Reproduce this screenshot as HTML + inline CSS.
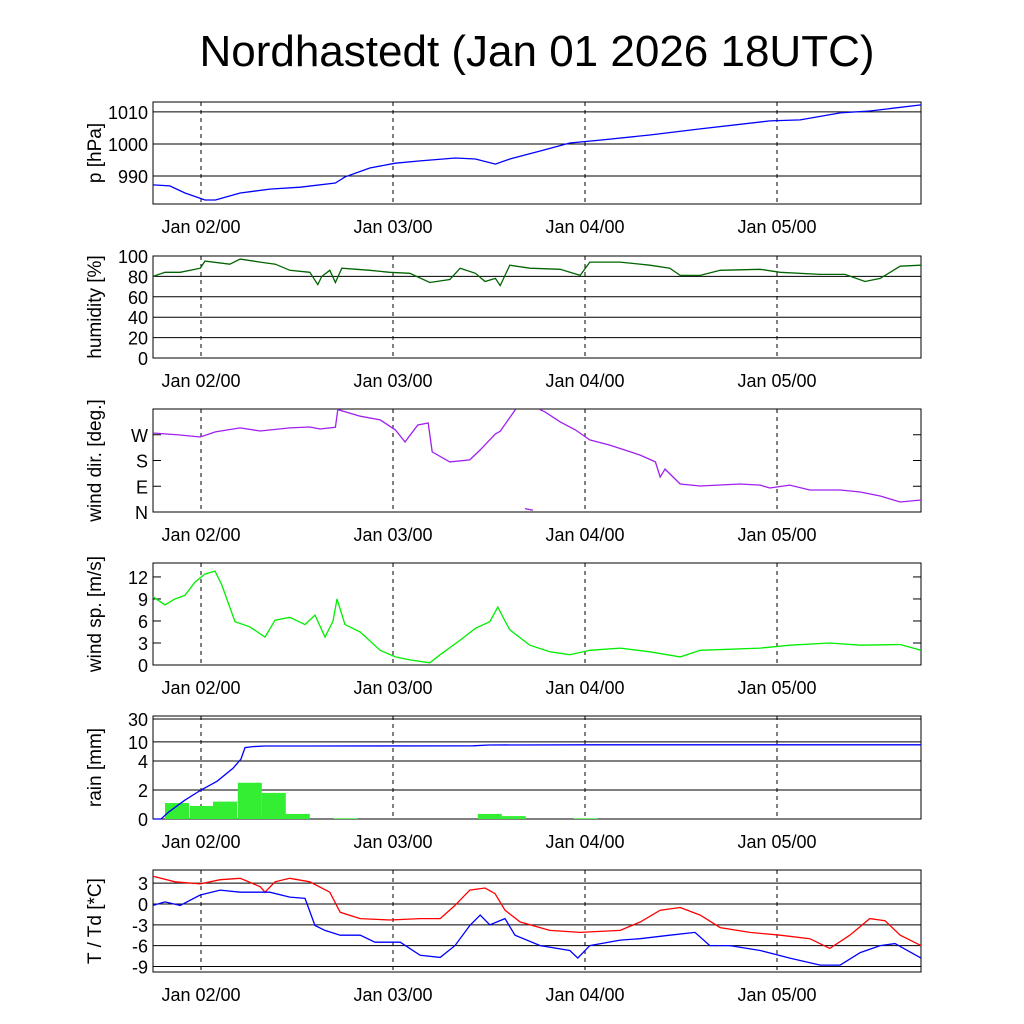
<!DOCTYPE html>
<html><head><meta charset="utf-8"><title>Nordhastedt meteogram</title>
<style>
html,body{margin:0;padding:0;background:#fff;}
svg{display:block;font-family:"Liberation Sans",sans-serif;}
</style></head>
<body>
<svg id="chart" width="1024" height="1024" viewBox="0 0 1024 1024" xmlns="http://www.w3.org/2000/svg">
<rect x="0" y="0" width="1024" height="1024" fill="#fff"/>
<text x="537" y="66" font-size="44" text-anchor="middle">Nordhastedt (Jan 01 2026 18UTC)</text>
</svg>
<script>
// ---- data (time in hours since Jan 01 18UTC) ----
const dayLabels = ["Jan 02/00","Jan 03/00","Jan 04/00","Jan 05/00"];
const dayHours = [6,30,54,78];

const pT = [0,2.1,4,6.5,7.8,10.9,14.6,18.4,22.8,24,27.1,30.3,33.4,37.8,40.3,42.8,44.6,48.4,52.1,55.9,62.1,68.4,77.1,80.9,85.9,89.6,96];
const pV = [987.2,986.9,984.7,982.5,982.5,984.7,985.9,986.5,987.8,989.7,992.5,994.0,994.7,995.6,995.3,993.7,995.3,997.8,1000.3,1001.2,1002.8,1004.7,1007.2,1007.5,1009.7,1010.3,1012.2];
const pTicks = [990,1000,1010];

const hT = [0,1.5,3.4,5.9,6.5,9.6,10.9,13.4,15.3,17.1,19.6,20.6,21.1,22.1,22.8,23.6,27.1,29.6,32.1,34.6,37.1,38.4,40.3,41.5,42.8,43.4,44.6,47.1,50.9,53.4,54.6,58.4,62.1,64.6,65.9,68.4,70.9,75.9,78.4,83.4,86.5,89,90.9,93.4,96];
const hV = [80,84,84,88,95,92,97,94,92,86,84,72,80,86,74,88,86,84,83,74,77,88,83,75,78,71,91,88,87,81,94,94,91,88,81,81,86,87,84,82,82,75,78,90,91];
const hTicks = [0,20,40,60,80,100];

const dT = [0,3.4,5.9,7.8,10.9,13.4,17.1,19.6,20.9,22.8,23.1,25.9,28.4,30.3,31.5,33.1,34.4,34.9,37.1,39.6,40.9,42.8,43.4,45.3,46.5,47.5,48.3,49,50.9,52.8,54.6,57.1,60.9,62.8,63.4,64,65.9,68.4,73.4,75.9,77.1,79.6,82.1,85.9,88.4,90.9,93.4,96];
const dV = [276,269,262,280,294,283,294,297,290,296,358,335,322,287,245,304,311,210,175,182,217,273,282,358,372,366,359,350,315,287,252,234,199,175,122,150,98,91,98,94,84,94,77,77,70,56,35,42];
const dTicks = [0,90,180,270];
const dTickLabels = ["N","E","S","W"];

const wT = [0,1.5,2.75,4,5.25,6.5,7.75,8.6,10.25,12.1,14,15.25,17.1,19,20.25,21.5,22.5,23,24,25.9,28.4,30.3,32.1,34.6,35.9,38.4,40.3,42.1,43.1,44,44.6,47.1,49.6,52.1,54.6,58.4,62.1,65.9,68.4,75.9,79.6,84.6,88.4,93.4,96];
const wV = [9.3,8.2,9.0,9.5,11.3,12.4,12.8,10.9,5.9,5.2,3.8,6.1,6.5,5.5,6.8,3.8,6.0,9.0,5.5,4.5,2.0,1.1,0.7,0.3,1.4,3.4,5.0,5.9,7.9,6.0,4.8,2.7,1.8,1.4,2.0,2.3,1.8,1.1,2.0,2.3,2.7,3.0,2.7,2.8,2.0];
const wTicks = [0,3,6,9,12];

const rainBinStart = [1.5,4.6,7.5,10.6,13.6,16.6,22.6,40.6,43.6,52.6];
const rainBinVal = [1.1,0.9,1.2,2.5,1.8,0.35,0.05,0.35,0.2,0.05];
const rainAccT = [0,1,2,4,6,8,10,11,11.5,12.5,14,20,40,42,55,96];
const rainAccV = [0,0,0.5,1.3,2.0,2.6,3.5,4.4,7.6,8.0,8.2,8.2,8.3,8.6,8.7,8.7];
const rainTicks = [0,2,4,10,30];

const tT = [0,2.75,5.9,8.4,10.9,13.4,14,15.25,17.1,19.6,22.1,23.4,25.9,29.6,33.4,35.9,37.75,39.6,41.5,42.75,44,45.9,49.6,53.4,58.4,60.9,63.4,65.9,68.4,70.9,74.6,78.4,82.1,84.6,87.1,89.6,91.5,93.4,96];
const tV = [4.0,3.2,2.9,3.5,3.7,2.5,1.7,3.2,3.7,3.2,1.7,-1.2,-2.1,-2.3,-2.1,-2.1,-0.2,2.0,2.3,1.5,-0.9,-2.6,-3.8,-4.1,-3.8,-2.6,-0.9,-0.5,-1.6,-3.4,-4.1,-4.5,-5.0,-6.4,-4.5,-2.1,-2.4,-4.5,-6.0];
const tdT = [0,1.5,3.4,5.9,8.4,10.9,14.6,17.1,19,20.25,21.5,23.4,25.9,27.75,30.9,33.4,35.9,37.75,39.6,40.9,42.1,44,45.25,48.4,52.1,53.1,54.6,58.4,60.9,64.6,67.75,69.6,72.1,75.9,79.6,83.4,85.9,88.4,90.9,92.75,96];
const tdV = [-0.2,0.3,-0.2,1.3,2.0,1.7,1.7,1.0,0.8,-3.1,-3.8,-4.5,-4.5,-5.5,-5.5,-7.4,-7.7,-6.0,-3.1,-1.6,-3.0,-2.1,-4.5,-6.0,-6.7,-7.8,-6.0,-5.2,-5.0,-4.5,-4.1,-6.0,-6.0,-6.7,-7.8,-8.8,-8.8,-7.0,-6.0,-5.7,-7.8];
const tTicks = [-9,-6,-3,0,3];

// ---- drawing ----
const svg = document.getElementById('chart');
const NS = 'http://www.w3.org/2000/svg';
const X0 = 153, X1 = 921, HOURS = 96;
const xs = h => X0 + (X1 - X0) * h / HOURS;
function mk(tag, attrs, parent){
  const e = document.createElementNS(NS, tag);
  for (const k in attrs) e.setAttribute(k, attrs[k]);
  (parent || svg).appendChild(e);
  return e;
}
function lin(lo, hi, top, bot){ return v => bot - (v - lo) / (hi - lo) * (bot - top); }

function panel(name, top, bot, ys, ticks, tickLabels, grid, ylabel){
  const g = mk('g', {});
  
  
  ticks.forEach((t, i) => {
    const y = ys(t);
    if (grid) {
      const gl = mk('line', {x1:X0, x2:X1, y1:y, y2:y, stroke:'#000', 'stroke-width':1}, g);
      
      
    } else {
      mk('line', {x1:X0, x2:X0+8, y1:y, y2:y, stroke:'#000'}, g);
      mk('line', {x1:X1-8, x2:X1, y1:y, y2:y, stroke:'#000'}, g);
    }
    const tl = mk('text', {x:X0-5, y:y+7, 'font-size':18, 'text-anchor':'end'}, g);
    tl.textContent = tickLabels[i];
    
    
  });
  dayHours.forEach((h, i) => {
    const x = xs(h);
    const vl = mk('line', {x1:x, x2:x, y1:top, y2:bot, stroke:'#000', 'stroke-dasharray':'4,4'}, g);
    
    
    const xl = mk('text', {x:x, y:bot+29, 'font-size':18, 'text-anchor':'middle'}, g);
    xl.textContent = dayLabels[i];
    
    
  });
  const fr = mk('rect', {x:X0, y:top, width:X1-X0, height:bot-top, fill:'none', stroke:'#000', 'stroke-width':1}, g);
  
  
  const cy = (top + bot) / 2, lx = 101;
  const yl = mk('text', {x:lx, y:cy, 'font-size':19, 'text-anchor':'middle', transform:`rotate(-90 ${lx} ${cy})`}, g);
  yl.textContent = ylabel;
  
  
  return g;
}
function line(g, T, V, ys, color, name){
  const d = T.map((t, i) => (i ? 'L' : 'M') + xs(t).toFixed(1) + ',' + ys(V[i]).toFixed(1)).join('');
  const p = mk('path', {d, fill:'none', stroke:color, 'stroke-width':1.3}, g);
  
  
}

// pressure
const yP = lin(981.25, 1013.1, 102, 204);
const gP = panel('pressure', 102, 204, yP, pTicks, pTicks.map(String), true, 'p [hPa]');
line(gP, pT, pV, yP, '#0000ff', 'pressure-line');

// humidity
const yH = lin(0, 100, 256, 358);
const gH = panel('humidity', 256, 358, yH, hTicks, hTicks.map(String), true, 'humidity [%]');
line(gH, hT, hV, yH, '#006400', 'humidity-line');

// wind direction (wrap around 360)
const yD = lin(0, 360, 409, 512);
const gD = panel('wind-direction', 409, 512, yD, dTicks, dTickLabels, false, 'wind dir. [deg.]');
{
  const segs = [[]];
  dT.forEach((t, i) => {
    const v = dV[i];
    if (i > 0 && (dV[i-1] > 360) !== (v > 360)) segs.push([]);
    segs[segs.length-1].push([t, v > 360 ? v - 360 : v]);
  });
  segs.forEach(s => line(gD, s.map(q => q[0]), s.map(q => q[1]), yD, '#a020f0', 'wind-direction-line'));
}

// wind speed
const yW = lin(0, 13.9, 563, 665);
const gW = panel('wind-speed', 563, 665, yW, wTicks, wTicks.map(String), false, 'wind sp. [m/s]');
line(gW, wT, wV, yW, '#00ee00', 'wind-speed-line');

// rain
const yR = v => v <= 4 ? 819 - v * 14.5 : 761 - 48 * Math.log10(v / 4);
const gR = panel('rain', 716, 819, yR, rainTicks, rainTicks.map(String), true, 'rain [mm]');
rainBinStart.forEach((h, i) => {
  const y = yR(rainBinVal[i]);
  const b = mk('rect', {x:xs(h), y:y, width:xs(h+3)-xs(h), height:819-y, fill:'#33ee33'}, gR);
  
  
});
line(gR, rainAccT, rainAccV, yR, '#0000ff', 'rain-accumulation-line');

// temperature
const yT = lin(-9.8, 4.9, 870, 972);
const gT = panel('temperature', 870, 972, yT, tTicks, tTicks.map(String), true, 'T / Td [*C]');
line(gT, tT, tV, yT, '#ff0000', 'temperature-line');
line(gT, tdT, tdV, yT, '#0000ff', 'dewpoint-line');
</script>
</body></html>
